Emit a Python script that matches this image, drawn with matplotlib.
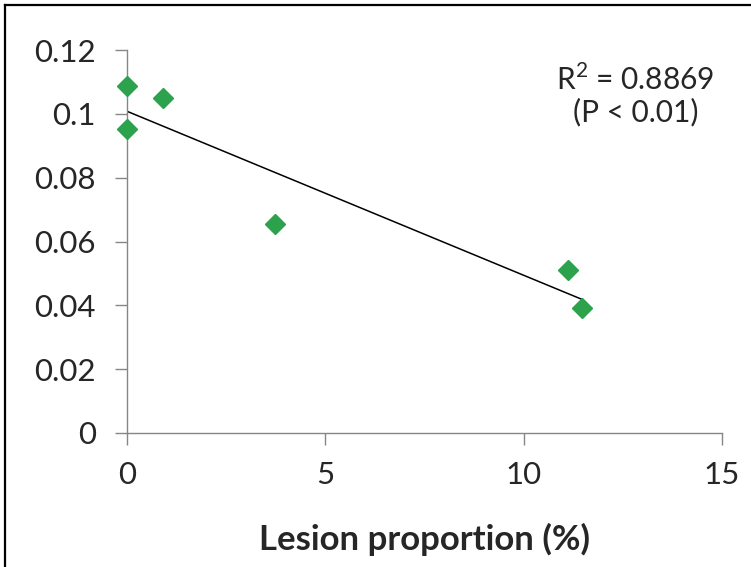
import matplotlib.pyplot as plt
from matplotlib.lines import Line2D
import numpy as np

plt.rcParams['font.family'] = ['Lato', 'DejaVu Sans']
plt.rcParams['mathtext.fontset'] = 'custom'
plt.rcParams['mathtext.rm'] = 'Lato'

# lesion proportion (%) and measured value
lesion = [0, 0, 0.91, 3.73, 11.12, 11.47]
value = [0.1088, 0.0953, 0.105, 0.0655, 0.0511, 0.0392]
xticks = [0, 5, 10, 15]
yticks = [0, 0.02, 0.04, 0.06, 0.08, 0.1, 0.12]
ytick_labels = ['0', '0.02', '0.04', '0.06', '0.08', '0.1', '0.12']

fig = plt.figure(figsize=(7.51, 5.67), dpi=100)
axe = fig.add_axes([127/751, 1-433/567, (722-127)/751, (433-50)/567])

axe.plot(lesion, value, 'D', color='#2ca24c', markersize=10, zorder=3, clip_on=False)

# linear trend line
slope, icpt = np.polyfit(lesion, value, 1)
xs = np.array([min(lesion), max(lesion)])
axe.plot(xs, slope*xs + icpt, color='black', lw=1.1, zorder=2)

axe.set_xlim(0, 15)
axe.set_ylim(0, 0.12)
axe.set_xticks(xticks)
axe.set_xticklabels([str(t) for t in xticks])
axe.set_yticks(yticks)
axe.set_yticklabels(ytick_labels)
for s in ['top', 'right']:
    axe.spines[s].set_visible(False)
for s in ['left', 'bottom']:
    axe.spines[s].set_color('#868686')
    axe.spines[s].set_linewidth(1.0)
axe.tick_params(direction='out', length=8.5, width=1.0, color='#868686',
                labelsize=22.5, labelcolor='#262626')
axe.tick_params(axis='y', pad=14)
axe.tick_params(axis='x', pad=12)
axe.set_xlabel('Lesion proportion (%)', fontsize=25, fontweight='bold',
               color='#262626', labelpad=24)

axe.text(0.855, 0.965, 'R$^\\mathregular{2}$ = 0.8869\n(P < 0.01)', transform=axe.transAxes,
         ha='center', va='top', fontsize=21.5, color='#262626', linespacing=1.15)

# outer frame (left and top only visible)
fig.add_artist(Line2D([5/751, 5/751], [0, 1-5/567], color='black', lw=1.6,
                      transform=fig.transFigure))
fig.add_artist(Line2D([5/751, 1], [1-5/567, 1-5/567], color='black', lw=1.6,
                      transform=fig.transFigure))

plt.savefig('out.png', dpi=100)
